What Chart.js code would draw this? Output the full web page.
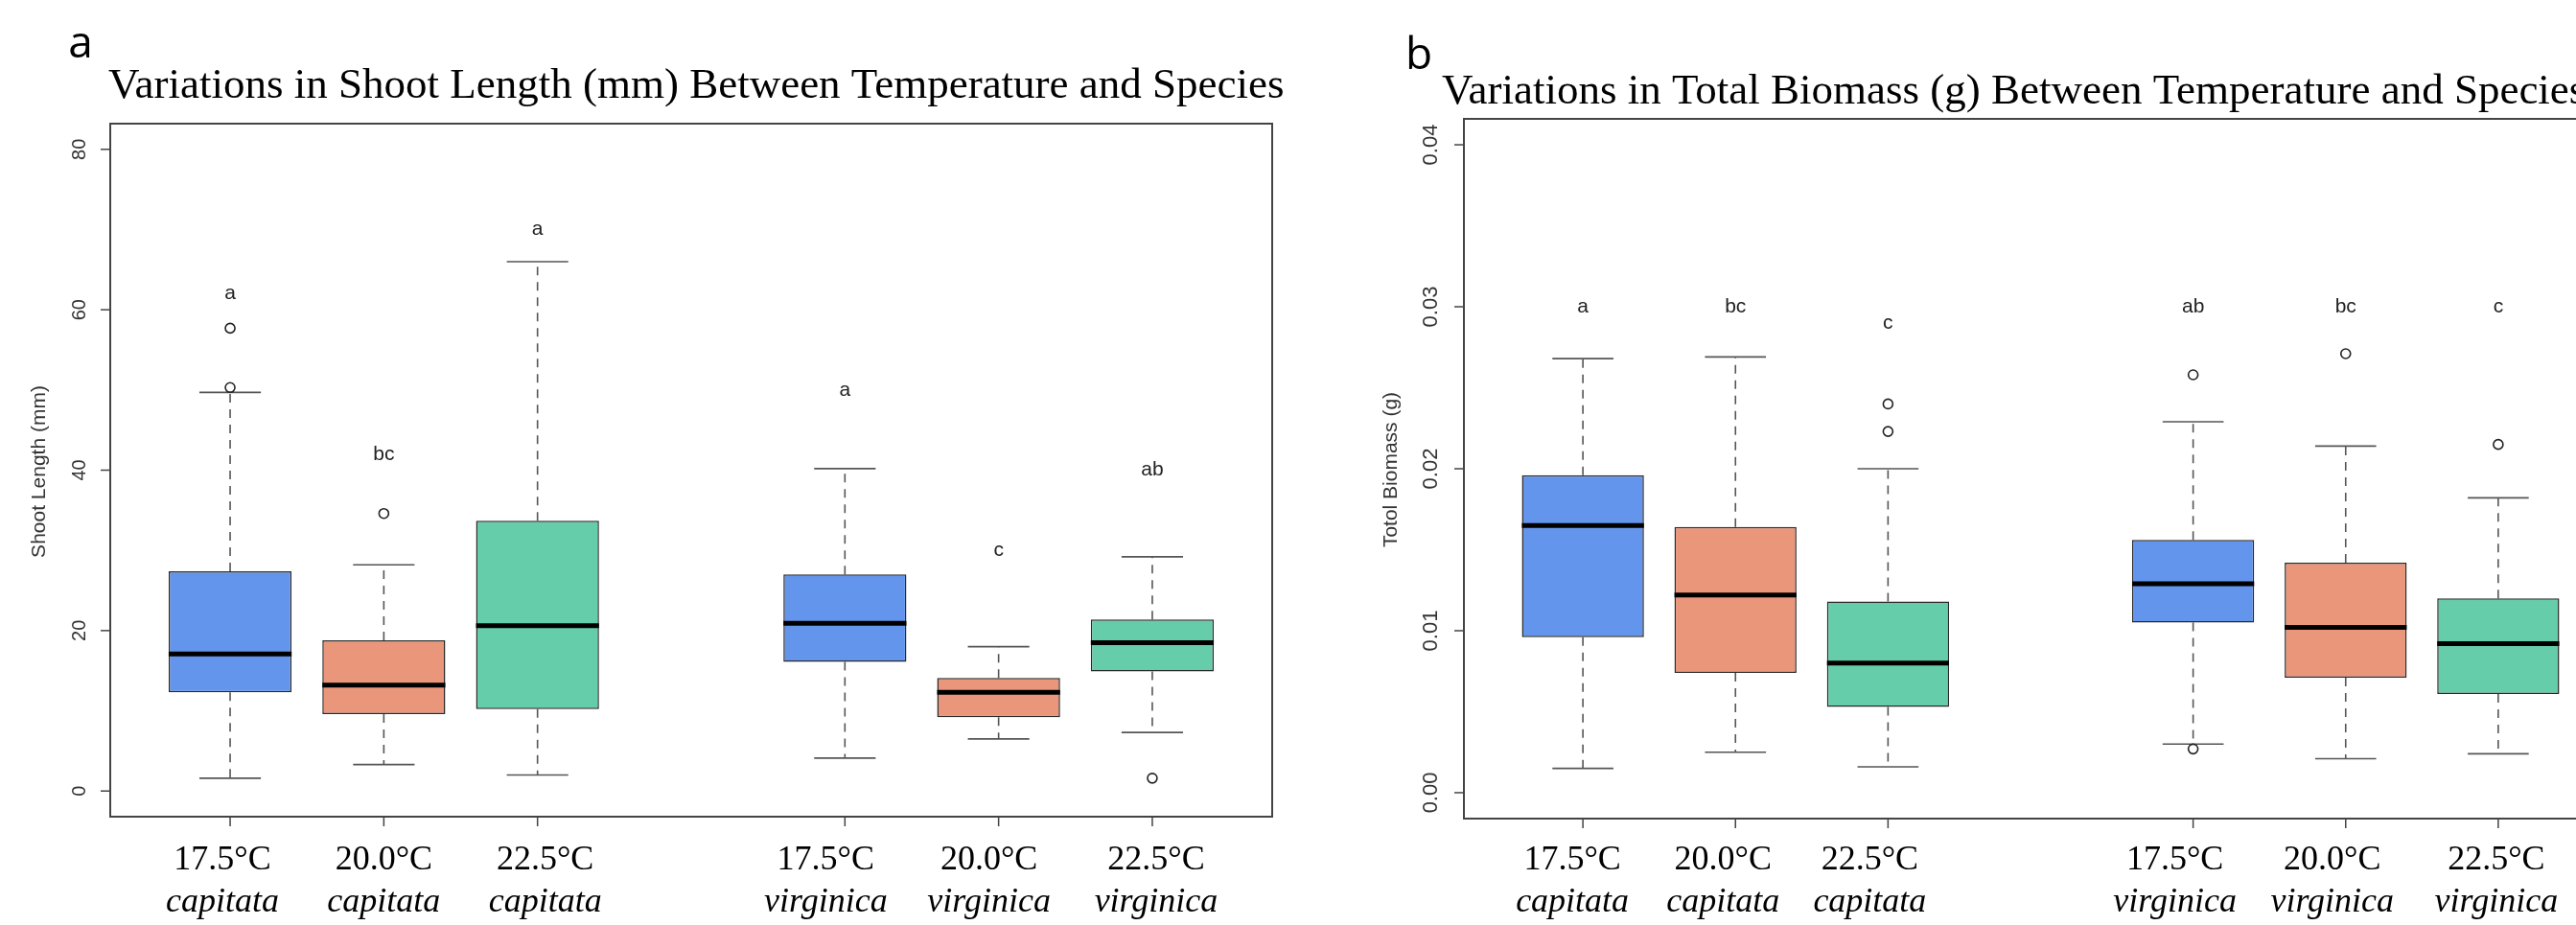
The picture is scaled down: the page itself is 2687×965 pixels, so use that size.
<!DOCTYPE html>
<html>
<head>
<meta charset="utf-8">
<script src="https://cdn.jsdelivr.net/npm/chart.js@4.4.1/dist/chart.umd.min.js"></script>
<style>
    html, body { margin: 0; padding: 0; background: #fff; overflow: hidden; }
    #wrap { position: relative; width: 2687px; height: 965px; overflow: hidden; }
    #panelA { position: absolute; left: 0; top: 0; width: 1344px; height: 965px; }
    #panelB { position: absolute; left: 1344px; top: 0; width: 1420px; height: 965px; }
</style>
</head>
<body>
<div id="wrap">
    <div id="panelA"><canvas id="shootChart"></canvas></div>
    <div id="panelB"><canvas id="biomassChart"></canvas></div>
</div>
<script>
// group layout and labels
var groupPositions = [1, 2, 3, 5, 6, 7];
var tempLabels = ['17.5°C', '20.0°C', '22.5°C', '17.5°C', '20.0°C', '22.5°C'];
var speciesLabels = ['capitata', 'capitata', 'capitata', 'virginica', 'virginica', 'virginica'];
var boxColors = ['#6495ED', '#E9967A', '#66CDAA', '#6495ED', '#E9967A', '#66CDAA'];

// shoot length (mm)
var shootLow = [1.6, 3.3, 2.0, 4.1, 6.5, 7.3];
var shootQ1 = [12.3, 9.6, 10.2, 16.1, 9.2, 14.9];
var shootMedian = [17.1, 13.2, 20.6, 20.9, 12.3, 18.5];
var shootQ3 = [27.4, 18.8, 33.7, 27.0, 14.1, 21.4];
var shootHigh = [49.7, 28.2, 66.0, 40.2, 18.0, 29.2];
var shootOutliers = [[57.7, 50.3], [34.6], [], [], [], [1.6]];
var shootLetters = ['a', 'bc', 'a', 'a', 'c', 'ab'];
var shootLetterY = [62, 42, 70, 50, 30, 40];
var shootTicks = [0, 20, 40, 60, 80];
var shootTickLabels = ['0', '20', '40', '60', '80'];

// total biomass (g)
var massLow = [0.0015, 0.0025, 0.0016, 0.0030, 0.0021, 0.0024];
var massQ1 = [0.0096, 0.0074, 0.0053, 0.0105, 0.0071, 0.0061];
var massMedian = [0.0165, 0.0122, 0.0080, 0.0129, 0.0102, 0.0092];
var massQ3 = [0.0196, 0.0164, 0.0118, 0.0156, 0.0142, 0.0120];
var massHigh = [0.0268, 0.0269, 0.0200, 0.0229, 0.0214, 0.0182];
var massOutliers = [[], [], [0.0240, 0.0223], [0.0258, 0.0027], [0.0271], [0.0215]];
var massLetters = ['a', 'bc', 'c', 'ab', 'bc', 'c'];
var massLetterY = [0.030, 0.030, 0.029, 0.030, 0.030, 0.030];
var massTicks = [0, 0.01, 0.02, 0.03, 0.04];
var massTickLabels = ['0.00', '0.01', '0.02', '0.03', '0.04'];

// R style 4% axis extension
function rExpand(lo, hi) {
    var d = (hi - lo) * 0.04;
    return [lo - d, hi + d];
}

var boxPlugin = {
    id: 'boxDecor',
    beforeDatasetsDraw: function (chart) {
        var s = chart.config.options.plugins.boxDecor;
        var ctx = chart.ctx, x = chart.scales.x, y = chart.scales.y;
        ctx.save();
        ctx.strokeStyle = '#555';
        ctx.lineWidth = 1.6;
        groupPositions.forEach(function (p, i) {
            var px = x.getPixelForValue(p);
            ctx.setLineDash([9, 7]);
            ctx.beginPath();
            ctx.moveTo(px, y.getPixelForValue(s.q3[i]));
            ctx.lineTo(px, y.getPixelForValue(s.high[i]));
            ctx.moveTo(px, y.getPixelForValue(s.q1[i]));
            ctx.lineTo(px, y.getPixelForValue(s.low[i]));
            ctx.stroke();
            ctx.setLineDash([]);
            ctx.beginPath();
            [s.high[i], s.low[i]].forEach(function (v) {
                ctx.moveTo(x.getPixelForValue(p - 0.2), y.getPixelForValue(v));
                ctx.lineTo(x.getPixelForValue(p + 0.2), y.getPixelForValue(v));
            });
            ctx.stroke();
        });
        ctx.restore();
    },
    afterDatasetsDraw: function (chart) {
        var s = chart.config.options.plugins.boxDecor;
        var ctx = chart.ctx, x = chart.scales.x, y = chart.scales.y;
        var area = chart.chartArea;
        ctx.save();

        // medians
        ctx.strokeStyle = '#000';
        ctx.lineWidth = 5;
        groupPositions.forEach(function (p, i) {
            var py = y.getPixelForValue(s.median[i]);
            ctx.beginPath();
            ctx.moveTo(x.getPixelForValue(p - 0.4), py);
            ctx.lineTo(x.getPixelForValue(p + 0.4), py);
            ctx.stroke();
        });

        // significance letters
        ctx.fillStyle = '#222';
        ctx.font = '21px "Liberation Sans", Arial, sans-serif';
        ctx.textAlign = 'center';
        ctx.textBaseline = 'middle';
        groupPositions.forEach(function (p, i) {
            ctx.fillText(s.letters[i], x.getPixelForValue(p), y.getPixelForValue(s.letterY[i]));
        });

        // frame
        ctx.strokeStyle = '#444';
        ctx.lineWidth = 2;
        ctx.strokeRect(area.left, area.top, area.right - area.left, area.bottom - area.top);

        // y axis ticks and labels
        ctx.lineWidth = 1.5;
        ctx.strokeStyle = '#444';
        ctx.fillStyle = '#333';
        ctx.font = s.tickFont;
        s.ticks.forEach(function (v, i) {
            var py = y.getPixelForValue(v);
            ctx.beginPath();
            ctx.moveTo(area.left - 10, py);
            ctx.lineTo(area.left, py);
            ctx.stroke();
            ctx.save();
            ctx.translate(area.left - s.tickGap, py);
            ctx.rotate(-Math.PI / 2);
            ctx.fillText(s.tickLabels[i], 0, 0);
            ctx.restore();
        });

        // y axis title
        ctx.save();
        ctx.font = '21px "Liberation Sans", Arial, sans-serif';
        ctx.translate(s.yTitlePos[0], s.yTitlePos[1]);
        ctx.rotate(-Math.PI / 2);
        ctx.fillText(s.yTitle, 0, 0);
        ctx.restore();

        // x axis ticks and two-line labels
        ctx.beginPath();
        ctx.moveTo(x.getPixelForValue(groupPositions[0]), area.bottom);
        ctx.lineTo(x.getPixelForValue(groupPositions[groupPositions.length - 1]), area.bottom);
        groupPositions.forEach(function (p) {
            var px = x.getPixelForValue(p);
            ctx.moveTo(px, area.bottom);
            ctx.lineTo(px, area.bottom + 10);
        });
        ctx.stroke();
        ctx.fillStyle = '#000';
        ctx.textBaseline = 'alphabetic';
        groupPositions.forEach(function (p, i) {
            var px = x.getPixelForValue(p) + s.labelNudge[i];
            ctx.font = '36px "Liberation Serif", "Times New Roman", serif';
            ctx.fillText(tempLabels[i], px, s.labelBase[0]);
            ctx.font = 'italic 36px "Liberation Serif", "Times New Roman", serif';
            ctx.fillText(speciesLabels[i], px, s.labelBase[1]);
        });

        // title and panel letter
        ctx.textAlign = 'left';
        ctx.font = '45px "Liberation Serif", "Times New Roman", serif';
        ctx.fillText(s.title, s.titlePos[0], s.titlePos[1]);
        ctx.textAlign = 'center';
        ctx.font = '46px "Open Sans", sans-serif';
        ctx.fillText(s.panel, s.panelPos[0], s.panelPos[1]);
        ctx.restore();
    }
};

function makePanel(canvasId, stats, outliers, ylim, style) {
    var xr = rExpand(groupPositions[0] - 0.5, groupPositions[groupPositions.length - 1] + 0.5);
    var yr = rExpand(ylim[0], ylim[1]);
    var outlierPoints = [];
    outliers.forEach(function (list, i) {
        list.forEach(function (v) { outlierPoints.push({ x: groupPositions[i], y: v }); });
    });
    style.q1 = stats.q1; style.q3 = stats.q3; style.median = stats.median;
    style.low = stats.low; style.high = stats.high;
    return new Chart(document.getElementById(canvasId).getContext('2d'), {
        type: 'bar',
        data: {
            datasets: [{
                label: 'box',
                data: groupPositions.map(function (p, i) { return { x: p, y: [stats.q1[i], stats.q3[i]] }; }),
                backgroundColor: boxColors,
                borderColor: '#2a2a2a',
                borderWidth: 1.5,
                borderSkipped: false,
                categoryPercentage: 0.8,
                barPercentage: 1.0
            }, {
                type: 'scatter',
                label: 'outliers',
                data: outlierPoints,
                pointRadius: 5,
                pointBorderWidth: 1.6,
                pointBorderColor: '#222',
                pointBackgroundColor: 'rgba(255,255,255,0)'
            }]
        },
        options: {
            responsive: true,
            maintainAspectRatio: false,
            animation: false,
            layout: { padding: style.padding },
            scales: {
                x: {
                    type: 'linear', display: false, offset: false, min: xr[0], max: xr[1],
                    afterBuildTicks: function (scale) {
                        scale.ticks = groupPositions.map(function (v) { return { value: v }; });
                    }
                },
                y: { type: 'linear', display: false, min: yr[0], max: yr[1] }
            },
            plugins: {
                legend: { display: false },
                tooltip: { enabled: false },
                boxDecor: style
            }
        },
        plugins: [boxPlugin]
    });
}

document.addEventListener('DOMContentLoaded', function () {
    makePanel('shootChart',
        { low: shootLow, q1: shootQ1, median: shootMedian, q3: shootQ3, high: shootHigh },
        shootOutliers, [0, 80], {
            padding: { left: 115, right: 17, top: 129, bottom: 113 },
            letters: shootLetters, letterY: shootLetterY,
            ticks: shootTicks, tickLabels: shootTickLabels,
            tickFont: '20px "Liberation Sans", Arial, sans-serif', tickGap: 32,
            yTitle: 'Shoot Length (mm)', yTitlePos: [41, 492],
            title: 'Variations in Shoot Length (mm) Between Temperature and Species', titlePos: [113, 102],
            panel: 'a', panelPos: [84, 60],
            labelNudge: [-8, 0, 8, -20, -10, 4], labelBase: [907, 951]
        });

    makePanel('biomassChart',
        { low: massLow, q1: massQ1, median: massMedian, q3: massQ3, high: massHigh },
        massOutliers, [0, 0.04], {
            padding: { left: 183, right: 34, top: 124, bottom: 111 },
            letters: massLetters, letterY: massLetterY,
            ticks: massTicks, tickLabels: massTickLabels,
            tickFont: '22px "Liberation Sans", Arial, sans-serif', tickGap: 34,
            yTitle: 'Totol Biomass (g)', yTitlePos: [107, 490],
            title: 'Variations in Total Biomass (g) Between Temperature and Species', titlePos: [160, 108],
            panel: 'b', panelPos: [136, 72],
            labelNudge: [-11, -13, -19, -19, -14, -2], labelBase: [907, 951]
        });
});
</script>
</body>
</html>
